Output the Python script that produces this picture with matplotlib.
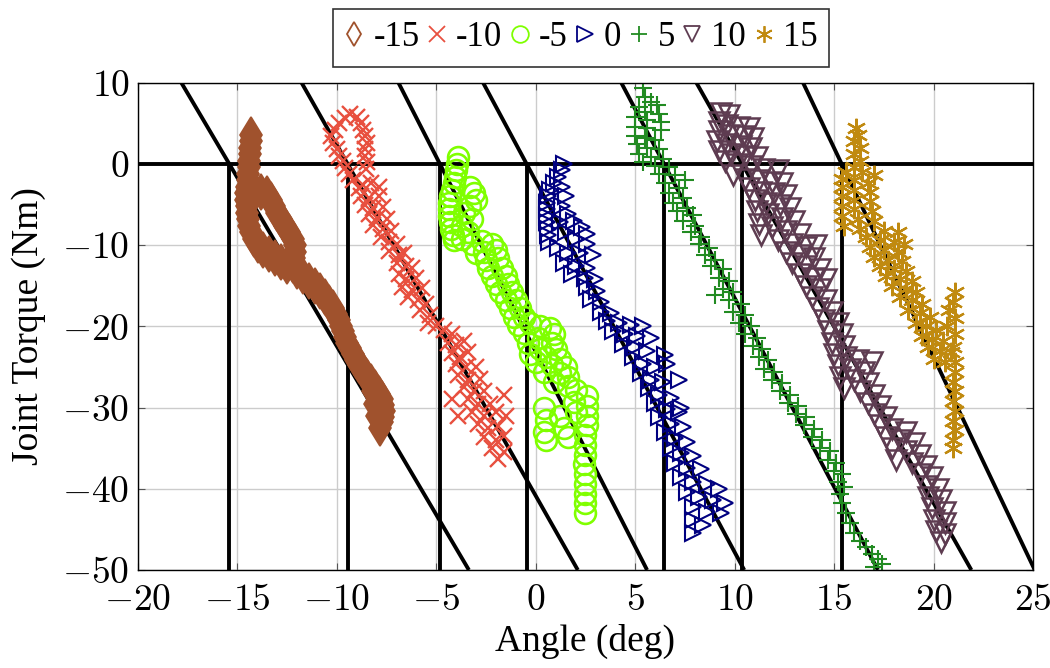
import matplotlib
matplotlib.use("Agg")

import matplotlib.pyplot as plt
from matplotlib.lines import Line2D

# ---------------------------------------------------------------
#  DATA: (angle deg, torque Nm)
# ---------------------------------------------------------------
SET_POINTS = ["-15", "-10", "-5", "0", "5", "10", "15"]

# stiffness model lines: zero-torque angle and slope (Nm/deg)
LINE_X0 = [-15.41, -9.46, -4.82, -0.46, 6.45, 10.38, 15.38]
LINE_SLOPE = [-4.15, -4.32, -4.8, -4.57, -4.65, -4.34, -5.15]

PTS_M15 = [
    (-14.3, 3.5), (-14.3, 2.8), (-14.35, 2.0), (-14.35, 1.2), (-14.4, 0.4), (-14.4, -0.4),
    (-14.45, -1.2), (-14.45, -2.0), (-14.5, -2.8), (-14.55, -3.6), (-14.55, -4.4),
    (-14.5, -5.2), (-14.5, -6.0), (-14.45, -6.8), (-14.4, -7.6), (-14.3, -8.4),
    (-14.15, -9.2), (-13.95, -10.0), (-13.7, -10.6), (-13.4, -11.1), (-13.1, -11.6),
    (-12.8, -12.1), (-12.5, -12.6), (-14.1, -3.3), (-13.8, -3.4), (-13.5, -3.7),
    (-13.3, -4.4), (-13.15, -5.2), (-13.0, -6.0), (-12.8, -6.8), (-12.6, -7.6),
    (-12.4, -8.4), (-12.2, -9.2), (-12.1, -10.0), (-12.1, -10.8), (-12.15, -11.6),
    (-12.2, -12.4), (-12.0, -13.2), (-11.7, -13.8), (-11.4, -14.4), (-11.1, -15.0),
    (-10.85, -15.7), (-10.6, -16.4), (-10.4, -17.1), (-10.2, -17.8), (-10.05, -18.5),
    (-9.9, -19.2), (-9.8, -19.9), (-9.7, -20.6), (-9.6, -21.3), (-9.5, -22.0),
    (-9.35, -22.7), (-9.2, -23.4), (-9.05, -24.1), (-8.9, -24.8), (-8.7, -25.5),
    (-8.5, -26.2), (-8.3, -26.9), (-8.1, -27.6), (-7.9, -28.3), (-7.75, -29.0),
    (-7.7, -29.7), (-7.65, -30.4), (-7.7, -31.1), (-7.75, -31.8), (-7.85, -32.5),
    (-8.2, -28.0), (-8.1, -29.5), (-8.0, -31.0),
]

PTS_M10 = [
    (-9.35, 6.2), (-9.6, 5.6), (-9.0, 5.8), (-8.8, 5.0), (-9.9, 5.0), (-10.1, 4.2),
    (-10.3, 3.4), (-10.2, 2.6), (-10.0, 1.8), (-9.9, 1.0), (-9.7, 0.3), (-9.6, -0.5),
    (-9.4, -1.2), (-9.2, -2.0), (-8.7, 4.2), (-8.6, 3.4), (-8.5, 2.6), (-8.6, 1.8),
    (-8.6, 1.0), (-8.5, 0.2), (-8.55, -0.6), (-8.9, -3.0), (-8.7, -2.6), (-8.3, -2.4),
    (-7.9, -2.8), (-8.8, -4.0), (-8.4, -4.2), (-7.9, -4.0), (-8.6, -5.0), (-8.2, -5.4),
    (-7.7, -5.3), (-8.4, -6.2), (-8.0, -6.6), (-7.5, -6.8), (-8.2, -7.5), (-7.7, -8.0),
    (-7.3, -8.3), (-7.8, -9.0), (-7.4, -9.6), (-7.0, -9.8), (-7.4, -10.7), (-6.9, -11.2),
    (-6.6, -11.0), (-7.0, -12.2), (-6.5, -12.6), (-6.2, -12.8), (-6.9, -13.5),
    (-6.5, -14.2), (-6.0, -14.0), (-6.7, -15.2), (-6.2, -15.5), (-5.7, -15.3),
    (-6.4, -16.4), (-5.9, -16.8), (-5.5, -17.2), (-5.8, -18.0), (-5.3, -18.6),
    (-5.4, -19.6), (-5.0, -20.0), (-4.6, -20.5), (-4.2, -21.0), (-4.4, -22.0),
    (-4.0, -22.3), (-3.6, -21.8), (-4.2, -23.3), (-3.8, -23.8), (-3.4, -23.2),
    (-4.0, -24.6), (-3.5, -25.0), (-3.0, -25.0), (-3.9, -26.0), (-3.4, -26.6),
    (-2.8, -26.5), (-3.6, -27.5), (-3.1, -28.0), (-2.6, -28.0), (-3.4, -29.0),
    (-2.9, -29.6), (-2.3, -29.5), (-3.2, -30.5), (-2.6, -31.0), (-2.0, -30.6),
    (-2.9, -32.0), (-2.4, -32.5), (-1.9, -32.3), (-2.6, -33.6), (-2.0, -34.0),
    (-1.6, -33.5), (-2.2, -35.0), (-1.6, -35.5), (-1.9, -36.3), (-4.2, -29.0),
    (-3.9, -31.0), (-1.6, -28.5), (-1.5, -31.0),
]

PTS_M5 = [
    (-3.9, 0.8), (-3.95, 0.0), (-4.0, -0.8), (-4.05, -1.6), (-4.1, -2.4), (-4.2, -3.2),
    (-4.3, -4.0), (-4.35, -4.8), (-4.35, -5.6), (-4.35, -6.4), (-4.3, -7.2), (-4.25, -8.0),
    (-4.15, -8.8), (-4.1, -9.4), (-3.3, -2.8), (-3.1, -3.6), (-3.0, -4.4), (-3.3, -5.2),
    (-3.6, -6.0), (-3.2, -6.8), (-3.7, -7.6), (-3.4, -8.4), (-3.7, -9.2), (-3.2, -9.8),
    (-2.7, -9.5), (-2.2, -9.8), (-2.0, -10.6), (-2.6, -10.8), (-3.0, -11.0), (-2.5, -11.8),
    (-1.9, -11.6), (-2.4, -12.8), (-1.7, -12.8), (-2.2, -13.8), (-1.5, -13.8), (-2.0, -14.8),
    (-1.4, -14.8), (-1.8, -15.8), (-1.2, -15.8), (-1.5, -16.8), (-1.0, -16.8), (-1.3, -17.8),
    (-0.8, -17.8), (-1.1, -18.8), (-0.6, -18.8), (-0.9, -19.8), (-0.3, -19.6), (0.2, -20.0),
    (0.7, -20.2), (0.9, -21.0), (-0.6, -20.8), (0.1, -21.4), (0.8, -22.0), (-0.4, -22.0),
    (0.2, -22.8), (1.0, -22.8), (-0.3, -23.4), (0.5, -23.8), (1.2, -24.0), (0.0, -24.4),
    (0.8, -24.8), (1.5, -25.0), (0.4, -25.6), (1.2, -25.8), (1.6, -26.2), (0.9, -26.8),
    (1.6, -27.4), (2.0, -27.8), (2.6, -28.6), (2.6, -29.8), (2.6, -31.0), (2.6, -32.2),
    (2.5, -33.4), (2.5, -34.6), (2.5, -35.8), (2.45, -37.0), (2.5, -38.2), (2.5, -39.4),
    (2.5, -40.6), (2.5, -41.8), (2.5, -43.0), (0.4, -30.0), (0.5, -31.5), (0.4, -33.0),
    (0.5, -34.0), (1.2, -31.0), (1.4, -32.5), (1.6, -33.6), (2.0, -30.5), (1.9, -29.3),
]

PTS_0 = [
    (1.4, 0.0), (1.3, -0.8), (1.1, -1.6), (0.9, -2.4), (0.7, -3.2), (0.6, -4.0), (0.55, -4.8),
    (0.55, -5.6), (0.55, -6.4), (0.55, -7.2), (0.6, -8.0), (0.6, -8.8), (0.65, -9.6),
    (1.3, -2.8), (1.5, -4.0), (1.3, -5.2), (1.6, -6.2), (1.9, -7.0), (2.3, -7.8), (2.6, -8.6),
    (1.2, -7.2), (1.5, -8.4), (2.0, -9.2), (2.6, -9.8), (1.1, -10.4), (1.6, -11.0),
    (2.2, -11.0), (2.9, -11.2), (1.4, -12.2), (2.0, -12.6), (2.6, -12.8), (1.8, -13.6),
    (2.5, -14.0), (3.0, -14.2), (2.6, -15.2), (3.1, -15.6), (2.8, -16.6), (3.3, -17.0),
    (3.3, -18.2), (3.8, -18.4), (3.6, -19.4), (4.2, -19.6), (4.8, -19.8), (5.4, -20.0),
    (3.9, -20.6), (4.5, -21.0), (5.1, -21.2), (5.8, -21.4), (4.4, -22.2), (5.0, -22.6),
    (5.6, -23.0), (6.5, -23.5), (4.9, -23.8), (5.4, -24.6), (6.0, -25.0), (5.3, -25.8),
    (5.8, -26.6), (6.4, -26.8), (5.7, -27.6), (6.2, -28.4), (6.8, -28.8), (6.0, -29.4),
    (6.6, -30.2), (7.2, -30.6), (6.2, -31.2), (6.8, -32.0), (7.4, -32.4), (6.5, -33.0),
    (7.0, -33.8), (7.6, -34.2), (6.8, -35.0), (7.3, -35.6), (7.9, -36.0), (7.0, -36.8),
    (7.6, -37.4), (8.3, -37.6), (7.3, -38.6), (7.9, -39.2), (8.6, -39.4), (9.2, -40.0),
    (7.6, -40.4), (8.2, -41.0), (8.9, -41.4), (9.5, -41.8), (7.9, -42.2), (8.6, -42.8),
    (9.3, -43.0), (7.9, -43.8), (8.4, -44.4), (7.9, -45.4), (7.2, -26.6), (7.3, -30.0),
    (6.6, -24.6),
]

PTS_5 = [
    (5.4, 9.3), (5.5, 8.3), (5.8, 7.6), (6.1, 7.2), (5.2, 7.0), (5.5, 6.4), (6.2, 6.2),
    (5.0, 5.8), (5.6, 5.4), (6.3, 5.2), (5.0, 4.6), (5.6, 4.4), (6.3, 4.2), (5.0, 3.4),
    (5.5, 3.2), (6.0, 3.0), (5.1, 2.4), (5.6, 2.0), (6.2, 1.8), (5.2, 1.2), (5.8, 0.8),
    (6.4, 0.6), (5.4, 0.2), (6.0, -0.2), (6.7, -0.4), (6.2, -1.2), (7.0, -1.4), (7.5, -2.0),
    (6.5, -2.4), (7.2, -3.0), (6.7, -3.6), (7.4, -4.2), (6.9, -4.8), (7.6, -5.4), (7.1, -5.8),
    (7.9, -6.3), (7.4, -7.0), (8.0, -7.6), (7.8, -8.4), (8.3, -9.0), (8.2, -9.8), (8.7, -10.4),
    (8.5, -11.2), (9.0, -11.8), (8.8, -12.6), (9.4, -13.0), (9.2, -14.0), (9.7, -14.4),
    (9.4, -15.4), (9.9, -15.8), (9.0, -16.2), (9.7, -16.8), (10.3, -17.2), (9.9, -18.2),
    (10.5, -18.6), (10.2, -19.6), (10.8, -20.0), (10.5, -21.0), (11.1, -21.4), (10.9, -22.4),
    (11.4, -22.8), (11.2, -23.8), (11.7, -24.2), (11.5, -25.2), (12.0, -25.6), (11.9, -26.6),
    (12.4, -27.0), (12.3, -28.0), (12.8, -28.4), (12.7, -29.4), (13.2, -29.8), (13.1, -30.8),
    (13.6, -31.2), (13.5, -32.2), (14.0, -32.6), (13.9, -33.6), (14.4, -34.0), (14.3, -35.0),
    (14.8, -35.4), (14.7, -36.4), (15.1, -36.8), (15.0, -37.8), (15.4, -38.2), (15.2, -39.2),
    (15.5, -39.8), (15.3, -40.6), (15.4, -41.8), (15.6, -43.0), (15.8, -44.2), (16.0, -45.4),
    (16.3, -46.4), (16.6, -47.2), (16.9, -48.0), (17.2, -48.6), (17.4, -49.2), (17.0, -49.6),
]

PTS_10 = [
    (9.3, 6.3), (9.7, 6.0), (9.2, 5.2), (9.6, 4.8), (10.2, 4.6), (10.7, 4.4), (9.2, 4.0),
    (9.7, 3.6), (10.4, 3.4), (10.9, 3.2), (9.1, 2.8), (9.6, 2.4), (10.3, 2.2), (10.8, 2.0),
    (9.2, 1.6), (9.8, 1.2), (10.5, 1.0), (11.1, 0.8), (9.5, 0.4), (10.1, 0.0), (10.8, -0.3),
    (11.5, -0.6), (12.2, -0.7), (9.9, -1.4), (10.5, -1.8), (11.2, -2.0), (11.9, -2.2),
    (12.4, -2.4), (10.7, -3.0), (11.3, -3.4), (12.0, -3.6), (12.6, -3.8), (11.0, -4.4),
    (11.6, -4.8), (12.3, -5.0), (12.8, -5.4), (11.1, -5.8), (11.7, -6.2), (12.4, -6.6),
    (13.0, -7.0), (11.2, -7.4), (11.9, -7.8), (12.6, -8.2), (13.3, -8.6), (11.3, -8.8),
    (12.2, -9.4), (12.9, -9.8), (13.6, -10.2), (14.1, -10.0), (12.6, -10.8), (13.3, -11.2),
    (14.0, -11.6), (12.9, -12.2), (13.6, -12.6), (14.3, -13.0), (13.3, -13.6), (14.0, -14.0),
    (14.6, -14.2), (13.6, -15.0), (14.3, -15.4), (13.9, -16.4), (14.6, -16.8), (14.2, -17.8),
    (14.9, -18.2), (14.5, -19.2), (15.2, -19.6), (14.7, -20.6), (15.4, -21.0), (14.9, -22.0),
    (15.5, -22.4), (15.0, -23.4), (15.6, -23.8), (16.2, -24.2), (16.9, -24.4), (15.2, -24.8),
    (15.8, -25.2), (16.5, -25.6), (15.3, -26.2), (16.0, -26.6), (16.7, -27.0), (15.5, -27.6),
    (16.3, -28.0), (17.0, -28.4), (16.7, -29.4), (17.3, -29.8), (17.0, -30.8), (17.6, -31.2),
    (17.3, -32.2), (17.9, -32.6), (18.6, -33.0), (17.6, -33.6), (18.3, -34.0), (19.0, -34.4),
    (17.9, -35.0), (18.6, -35.4), (19.3, -35.8), (18.1, -36.4), (18.9, -36.8), (19.6, -37.2),
    (19.3, -38.2), (19.9, -38.6), (19.6, -39.6), (20.2, -40.0), (19.7, -41.0), (20.4, -41.4),
    (19.9, -42.4), (20.6, -42.8), (20.0, -43.8), (20.6, -44.2), (20.1, -45.2), (20.6, -45.6),
    (20.4, -46.6),
]

PTS_15 = [
    (16.1, 4.4), (16.2, 3.6), (16.0, 2.8), (16.3, 2.0), (16.0, 1.2), (16.3, 0.4), (16.0, -0.4),
    (15.6, -1.0), (16.4, -1.0), (17.0, -1.4), (15.4, -1.8), (16.0, -2.0), (16.7, -2.4),
    (15.4, -2.8), (16.0, -3.2), (16.8, -3.4), (15.4, -4.0), (16.0, -4.4), (16.8, -4.6),
    (15.4, -5.2), (16.0, -5.6), (16.9, -5.8), (15.4, -6.4), (16.2, -6.8), (17.0, -7.0),
    (15.5, -7.6), (16.3, -8.0), (17.5, -8.2), (18.2, -8.4), (16.6, -9.0), (17.3, -9.4),
    (18.0, -9.6), (18.5, -9.8), (16.8, -10.2), (17.5, -10.6), (18.2, -10.8), (17.0, -11.4),
    (17.7, -11.8), (18.4, -12.0), (17.3, -12.6), (18.0, -13.0), (18.6, -13.2), (17.6, -13.8),
    (18.3, -14.2), (18.9, -14.4), (17.9, -15.0), (18.6, -15.4), (19.1, -15.8), (18.3, -16.4),
    (18.9, -16.8), (19.4, -17.2), (18.7, -18.0), (19.3, -18.4), (19.8, -18.8), (19.1, -19.6),
    (19.6, -20.0), (20.1, -20.4), (19.4, -21.2), (19.9, -21.6), (20.5, -21.8), (19.7, -22.6),
    (20.3, -23.0), (20.9, -23.2), (20.0, -24.0), (20.6, -24.4), (21.1, -24.4), (21.1, -15.8),
    (21.0, -17.0), (20.8, -18.0), (21.1, -19.0), (20.7, -20.0), (21.1, -21.0), (21.0, -22.5),
    (21.1, -25.6), (21.0, -26.8), (21.1, -28.0), (21.0, -29.2), (21.1, -30.4), (21.0, -31.6),
    (21.1, -32.8), (21.0, -34.0), (21.0, -35.0),
]

SERIES = [PTS_M15, PTS_M10, PTS_M5, PTS_0, PTS_5, PTS_10, PTS_15]

X_TICKS = [-20, -15, -10, -5, 0, 5, 10, 15, 20, 25]
Y_TICKS = [-50, -40, -30, -20, -10, 0, 10]

# ---------------------------------------------------------------
#  STYLE
# ---------------------------------------------------------------
COLORS = ["#A0522D", "#E8503F", "#7FFF00", "#000080", "#228B22", "#5E3C51", "#C08A10"]
MARKERS = ["d", "x", "o", ">", "+", "v", (6, 2, 0)]
SIZES = [18, 11, 15, 11, 13, 14, 14]
EDGE_W = [1.2, 1.7, 1.9, 1.5, 1.5, 1.8, 1.6]

plt.rcParams.update({
    "font.family": "serif",
    "font.serif": ["Liberation Serif", "DejaVu Serif"],
    "mathtext.fontset": "cm",
})

fig = plt.figure(figsize=(10.5, 6.68), dpi=100)
ax = fig.add_axes([0.1314, 0.1467, 0.8524, 0.7295])

ax.set_xlim(-20, 25)
ax.set_ylim(-50, 10)
ax.grid(True, color="#cccccc", linewidth=1.0, zorder=0)
ax.set_axisbelow(True)

# model lines
for x0, k in zip(LINE_X0, LINE_SLOPE):
    ax.plot([x0 + 10 / k, x0 - 50 / k], [10, -50], color="black", lw=2.8, zorder=2,
            solid_capstyle="butt")
    ax.plot([x0, x0], [-50, 0], color="black", lw=2.8, zorder=2, solid_capstyle="butt")
ax.axhline(0, color="black", lw=2.8, zorder=2)

# measurements
handles = []
for pts, c, m, s, ew, lab in zip(SERIES, COLORS, MARKERS, SIZES, EDGE_W, SET_POINTS):
    ang = [p[0] for p in pts]
    trq = [p[1] for p in pts]
    face = c if m == "d" else "none"
    ax.plot(ang, trq, linestyle="none", marker=m, markersize=s, markeredgecolor=c,
            markerfacecolor=face, markeredgewidth=ew, zorder=3)
    handles.append(Line2D([], [], linestyle="none", marker=m, markersize=12,
                          markeredgecolor=c, markerfacecolor="none",
                          markeredgewidth=1.3, label=lab))

ax.set_xticks(X_TICKS)
ax.set_xticklabels([f"${v}$" for v in X_TICKS])
ax.set_yticks(Y_TICKS)
ax.set_yticklabels([f"${v}$" for v in Y_TICKS])
ax.tick_params(direction="in", top=True, right=True, length=5, width=0.8,
               color="#555555", labelsize=27)
ax.tick_params(axis="x", pad=10)
ax.tick_params(axis="y", pad=6)
for sp in ax.spines.values():
    sp.set_linewidth(1.0)
    sp.set_zorder(5)

ax.set_xlabel("Angle (deg)", fontsize=27, labelpad=4)
ax.set_ylabel("Joint Torque (Nm)", fontsize=27, labelpad=12)

leg = ax.legend(handles=handles, ncol=7, loc="lower center", bbox_to_anchor=(0.4955, 1.033),
                fontsize=25, frameon=True, fancybox=False, edgecolor="black",
                handlelength=0.5, handletextpad=0.3, columnspacing=0.25,
                borderpad=0.35, borderaxespad=0)
leg.get_frame().set_linewidth(1.2)

fig.savefig("out.png", dpi=100)
